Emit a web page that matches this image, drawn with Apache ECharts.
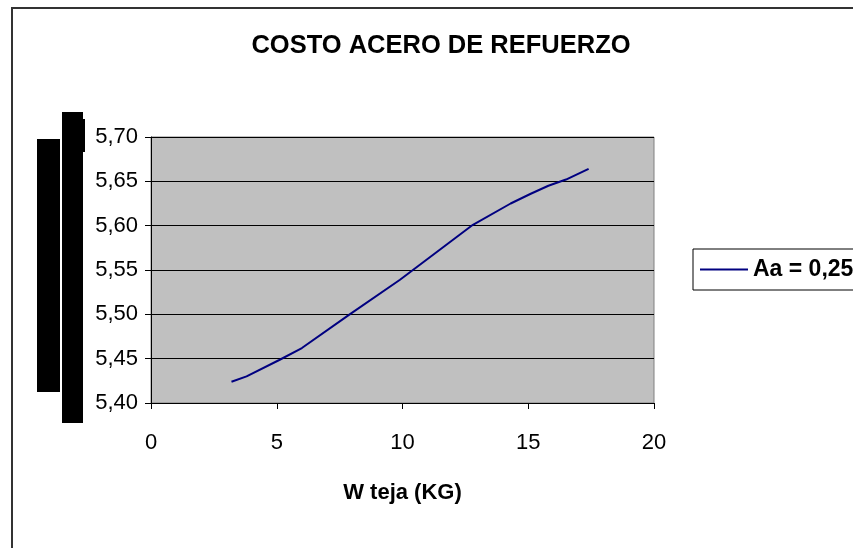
<!DOCTYPE html>
<html>
<head>
<meta charset="utf-8">
<script src="https://cdn.jsdelivr.net/npm/echarts@6/dist/echarts.min.js"></script>
<style>
  html, body { margin: 0; padding: 0; background: #fff; }
  #chart { width: 853px; height: 548px; }
</style>
</head>
<body>
<div id="chart"></div>
<script>
// valores
const wTeja = [3.2, 3.8, 5.1, 6.0, 7.9, 9.9, 12.8, 14.3, 15.1, 15.8, 16.5, 17.4];
const costo = [5.424, 5.430, 5.4485, 5.462, 5.500, 5.539, 5.601, 5.625, 5.636, 5.645, 5.652, 5.664];
const xTicks = [0, 5, 10, 15, 20];
const yTicks = [5.40, 5.45, 5.50, 5.55, 5.60, 5.65, 5.70];

const serieNombre = "Aa = 0,25";
const fuente = '"Liberation Sans", Arial, sans-serif';

let myChart = echarts.init(document.getElementById("chart"));
myChart.setOption({
  backgroundColor: "#fff",
  animation: false,
  title: {
    text: "COSTO ACERO DE REFUERZO",
    left: 436,
    textAlign: "center",
    top: 28,
    textStyle: { fontFamily: fuente, fontSize: 25.5, fontWeight: "bold", color: "#000" },
  },
  legend: {
    left: 693,
    top: 249,
    padding: [9, 7, 9, 7],
    backgroundColor: "#fff",
    borderColor: "#000",
    borderWidth: 1,
    borderRadius: 0,
    icon: "rect",
    itemWidth: 48,
    itemHeight: 2,
    data: [serieNombre],
    textStyle: { fontFamily: fuente, fontSize: 23, fontWeight: "bold", color: "#000" },
  },
  grid: {
    left: 151,
    right: 199,
    top: 137,
    bottom: 145,
    show: true,
    backgroundColor: "#C0C0C0",
    borderColor: "#808080",
    borderWidth: 1,
  },
  xAxis: {
    type: "value",
    min: xTicks[0],
    max: xTicks[xTicks.length - 1],
    interval: 5,
    name: "W teja (KG)",
    nameLocation: "middle",
    nameGap: 79,
    nameTextStyle: { fontFamily: fuente, fontSize: 22, fontWeight: "bold", color: "#000" },
    axisLine: { lineStyle: { color: "#000", width: 1 } },
    axisTick: { show: true, length: 6, lineStyle: { color: "#000" } },
    axisLabel: { margin: 29, fontFamily: fuente, fontSize: 22, color: "#000" },
    splitLine: { show: false },
  },
  yAxis: {
    type: "value",
    min: yTicks[0],
    max: yTicks[yTicks.length - 1],
    interval: 0.05,
    axisLine: { show: true, lineStyle: { color: "#000", width: 1 } },
    axisTick: { show: true, length: 6, lineStyle: { color: "#000" } },
    axisLabel: {
      margin: 13,
      fontFamily: fuente,
      fontSize: 22,
      color: "#000",
      formatter: (v) => v.toFixed(2).replace(".", ","),
    },
    splitLine: { show: true, lineStyle: { color: "#000", width: 1 } },
  },
  graphic: [
    // marco del grafico
    {
      type: "rect",
      shape: { x: 12, y: 8, width: 900, height: 600 },
      style: { fill: null, stroke: "#333", lineWidth: 2 },
      z: -1,
    },
    // bloques negros (titulo eje Y tapado)
    { type: "rect", shape: { x: 37, y: 139, width: 23, height: 253 }, style: { fill: "#000" } },
    { type: "rect", shape: { x: 62, y: 112, width: 21, height: 311 }, style: { fill: "#000" } },
    { type: "rect", shape: { x: 82, y: 119, width: 3, height: 33 }, style: { fill: "#000" } },
  ],
  series: [
    {
      name: serieNombre,
      type: "line",
      symbol: "none",
      smooth: false,
      data: wTeja.map((w, i) => [w, costo[i]]),
      lineStyle: { color: "#000080", width: 2 },
      itemStyle: { color: "#000080" },
    },
  ],
});
</script>
</body>
</html>
